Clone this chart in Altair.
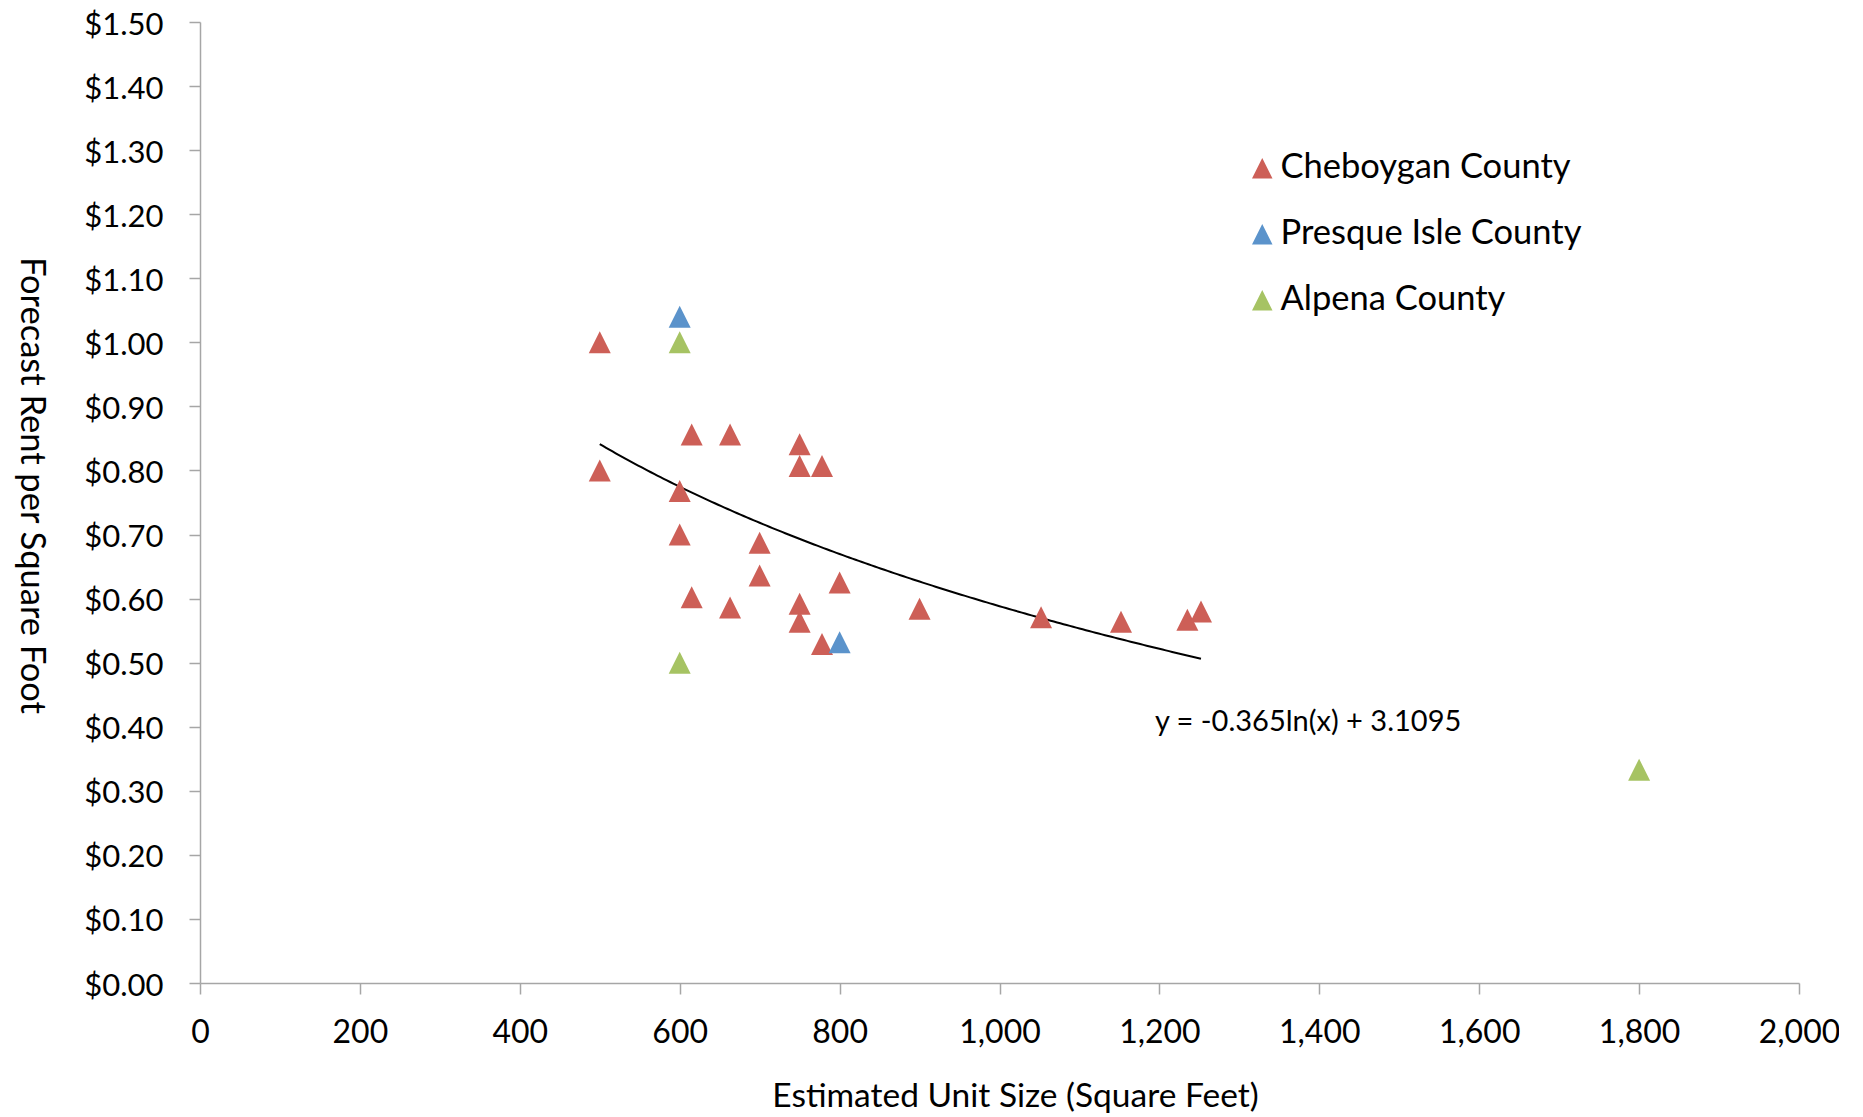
import altair as alt
import pandas as pd

# ---- data ----
cheb_x = [500, 500, 600, 600, 615, 615, 663, 663, 700, 700, 750, 750, 750, 750,
          778, 778, 800, 900, 1052, 1152, 1235, 1252]
cheb_y = [1.00, 0.80, 0.768, 0.70, 0.856, 0.602, 0.856, 0.586, 0.687, 0.636,
          0.841, 0.807, 0.592, 0.564, 0.807, 0.529, 0.625, 0.584, 0.571, 0.564,
          0.567, 0.580]
pi_x = [600, 800]
pi_y = [1.04, 0.532]
alp_x = [600, 600, 1800]
alp_y = [1.00, 0.50, 0.333]

series = ["Cheboygan County", "Presque Isle County", "Alpena County"]
colors = ["#CD5F57", "#5B93CB", "#A6C363"]

x_ticks = list(range(0, 2001, 200))
y_ticks = [round(i * 0.1, 2) for i in range(16)]

# trendline shown on the chart: y = -0.365 ln(x) + 3.1095 over the Cheboygan range
trend_slope = -0.365
trend_intercept = 3.1095
trend_range = [500, 1252]
trend_label = "y = -0.365ln(x) + 3.1095"
trend_label_pos = [1386, 0.408]

FONT = "Lato"
TRI = "M-1,1L0,-1L1,1Z"

rows = []
for name, xs, ys in [(series[0], cheb_x, cheb_y), (series[1], pi_x, pi_y), (series[2], alp_x, alp_y)]:
    for xv, yv in zip(xs, ys):
        rows.append({"size": xv, "rent": yv, "county": name})
df = pd.DataFrame(rows)
df["order"] = df["county"].map({s: i for i, s in enumerate(series)})

x_scale = alt.Scale(domain=[0, 2000], nice=False, zero=True)
y_scale = alt.Scale(domain=[0, 1.5], nice=False, zero=True)

x_axis = alt.Axis(
    values=x_ticks, format=",d", title="Estimated Unit Size (Square Feet)",
    titleX=815, titleY=123, titleAlign="center", titleBaseline="alphabetic",
    labelBaseline="middle", labelPadding=38, labelFlush=False,
)
y_axis = alt.Axis(
    values=y_ticks, format="$.2f", title="Forecast Rent per Square Foot",
    titleX=-170, titleY=463, titleAngle=90, titleAlign="center", titleBaseline="middle",
    titleFontSize=34.5,
    labelPadding=26, labelOffset=3, labelFontSize=31, labelFlush=False,
)

points = alt.Chart(df).mark_point(filled=True, shape=TRI, size=484, opacity=1).encode(
    x=alt.X("size:Q", scale=x_scale, axis=x_axis),
    y=alt.Y("rent:Q", scale=y_scale, axis=y_axis),
    color=alt.Color(
        "county:N",
        scale=alt.Scale(domain=series, range=colors),
        legend=alt.Legend(
            title=None, orient="none", legendX=1045, legendY=129,
            symbolType=TRI, symbolSize=420, symbolStrokeWidth=0,
            symbolOpacity=1, labelFontSize=34.5, labelFont=FONT, labelColor="black",
            labelOffset=1, labelLimit=1000, rowPadding=31, padding=0,
        ),
    ),
    order=alt.Order("order:Q"),
)

trend = alt.Chart(alt.sequence(trend_range[0], trend_range[1] + 1, 4, as_="size")).transform_calculate(
    rent=f"{trend_slope} * log(datum.size) + {trend_intercept}"
).mark_line(color="black", strokeWidth=2).encode(
    x=alt.X("size:Q", scale=x_scale),
    y=alt.Y("rent:Q", scale=y_scale),
)

label_df = pd.DataFrame({"x": [trend_label_pos[0]], "y": [trend_label_pos[1]], "t": [trend_label]})
label = alt.Chart(label_df).mark_text(
    font=FONT, fontSize=29, color="black", align="center", baseline="middle"
).encode(
    x=alt.X("x:Q", scale=x_scale),
    y=alt.Y("y:Q", scale=y_scale),
    text="t:N",
)

chart = alt.layer(trend, points, label).properties(
    width=1599, height=961,
    padding={"left": 192, "top": 14, "right": 40, "bottom": 131},
    autosize=alt.AutoSizeParams(type="none"),
).configure_view(stroke=None).configure_axis(
    grid=False,
    domainColor="#A6A6A6", tickColor="#A6A6A6", domainWidth=1.5, tickWidth=1.5, tickSize=11,
    labelFont=FONT, labelFontSize=32, labelColor="black",
    titleFont=FONT, titleFontSize=33.5, titleColor="black", titleFontWeight="normal",
)

chart.save("out.html", embed_options={"renderer": "svg", "actions": False})
